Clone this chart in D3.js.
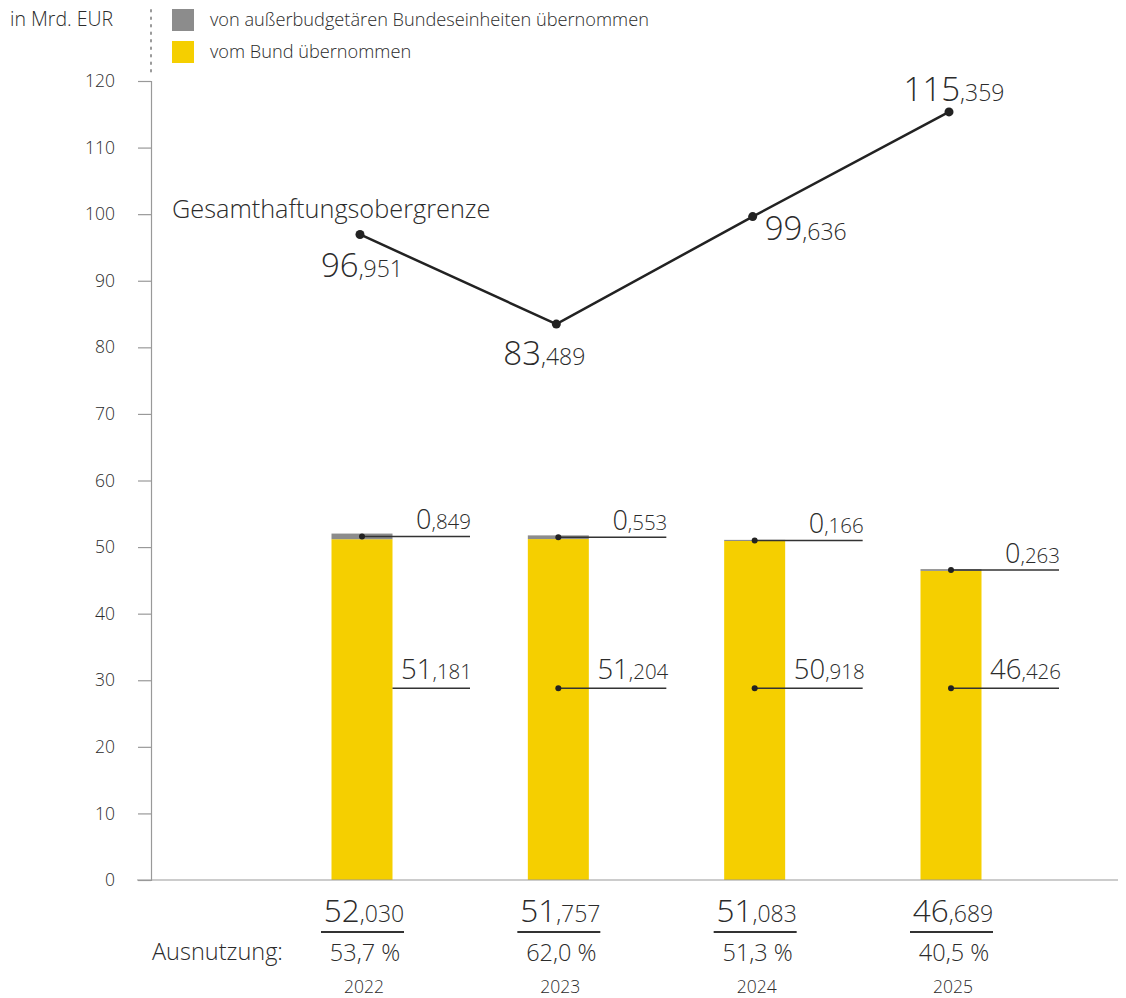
<!DOCTYPE html>
<html>
<head>
<meta charset="utf-8">
<script src="https://cdn.jsdelivr.net/npm/d3@7"></script>
<style>
  body { margin: 0; background: #fff; }
  svg text { font-family: 'Open Sans', sans-serif; fill: #2b2b2b; }
  .light { font-weight: 300; }
</style>
</head>
<body>
<div id="chart"></div>
<script>
// Daten (in Mrd. EUR)
var jahre = ['2022', '2023', '2024', '2025']
var vomBund = [51.181, 51.204, 50.918, 46.426]
var ausserbudgetaer = [0.849, 0.553, 0.166, 0.263]
var gesamt = [52.030, 51.757, 51.083, 46.689]
var obergrenze = [96.951, 83.489, 99.636, 115.359]
var ausnutzung = ['53,7 %', '62,0 %', '51,3 %', '40,5 %']
var yTicks = [0, 10, 20, 30, 40, 50, 60, 70, 80, 90, 100, 110, 120]

var width = 1126
var height = 998
var gelb = '#f5cf00'
var grau = '#8c8c8c'

var svg = d3.select('#chart').append('svg').attr('width', width).attr('height', height)

var y = d3.scaleLinear().domain([0, 120]).range([880, 81])
var x = d3.scalePoint().domain(jahre).range([362, 951])
var barW = 61

// y-Achse
var yaxis = d3.axisLeft(y).tickValues(yTicks).tickSize(13).tickPadding(23)
var gy = svg.append('g').attr('transform', 'translate(151,0)').call(yaxis)
gy.select('.domain').attr('stroke', '#999').attr('stroke-width', 1.2)
gy.selectAll('.tick line').attr('stroke', '#999').attr('stroke-width', 1.2)
gy.selectAll('.tick text').attr('class', 'light').style('font-size', '17.5px').attr('fill', '#222')

// gepunktete Linie oberhalb der Achse
svg.append('line')
  .attr('x1', 151).attr('x2', 151).attr('y1', 10).attr('y2', 76)
  .attr('stroke', '#999').attr('stroke-width', 2)
  .attr('stroke-dasharray', '1.5,6').attr('stroke-linecap', 'round')

svg.append('text').attr('class', 'light').attr('x', 10).attr('y', 26).style('font-size', '19.5px').text('in Mrd. EUR')

// Legende
var legende = [
  { label: 'von außerbudgetären Bundeseinheiten übernommen', color: grau },
  { label: 'vom Bund übernommen', color: gelb },
]
var lg = svg.append('g').selectAll('g').data(legende).enter().append('g')
  .attr('transform', (d, i) => 'translate(172,' + (9 + i * 32) + ')')
lg.append('rect').attr('width', 22).attr('height', 22).attr('fill', (d) => d.color)
lg.append('text').attr('class', 'light').attr('x', 38).attr('y', 17).style('font-size', '18.2px').text((d) => d.label)

// Balken
var bars = svg.append('g')
bars.selectAll('rect.bund').data(vomBund).enter().append('rect')
  .attr('class', 'bund')
  .attr('x', (d, i) => x(jahre[i]) - barW / 2)
  .attr('y', (d) => y(d))
  .attr('width', barW)
  .attr('height', (d) => y(0) - y(d))
  .attr('fill', gelb)
bars.selectAll('rect.ausser').data(ausserbudgetaer).enter().append('rect')
  .attr('class', 'ausser')
  .attr('x', (d, i) => x(jahre[i]) - barW / 2)
  .attr('y', (d, i) => y(vomBund[i] + d))
  .attr('width', barW)
  .attr('height', (d, i) => y(vomBund[i]) - y(vomBund[i] + d))
  .attr('fill', grau)

// x-Achse
svg.append('line').attr('x1', 137).attr('x2', 1118).attr('y1', y(0)).attr('y2', y(0))
  .attr('stroke', '#999').attr('stroke-width', 1.2)

// Zahl mit großem Ganzzahlteil und kleinen Nachkommastellen
function zahl(sel, v, big, small) {
  var parts = v.toFixed(3).split('.')
  sel.attr('class', 'light')
  sel.append('tspan').style('font-size', big + 'px').text(parts[0])
  sel.append('tspan').style('font-size', small + 'px').text(',' + parts[1])
}

// Beschriftung der Balken
var lineEnd = 108
var ann = svg.append('g')
jahre.forEach(function (j, i) {
  var cx = x(j)
  // oberes Segment
  var yTop = y(vomBund[i] + ausserbudgetaer[i] / 2)
  ann.append('line').attr('x1', cx).attr('x2', cx + lineEnd).attr('y1', yTop).attr('y2', yTop)
    .attr('stroke', '#333').attr('stroke-width', 1.5)
  ann.append('circle').attr('cx', cx).attr('cy', yTop).attr('r', 3).attr('fill', '#222')
  zahl(ann.append('text').attr('x', cx + lineEnd + 1).attr('y', yTop - 7).attr('text-anchor', 'end'),
    ausserbudgetaer[i], 27, 20.5)

  // unteres Segment
  var yLow = y(28.8)
  ann.append('line').attr('x1', i === 0 ? cx + barW / 2 : cx).attr('x2', cx + lineEnd)
    .attr('y1', yLow).attr('y2', yLow)
    .attr('stroke', '#333').attr('stroke-width', 1.5)
  if (i > 0) ann.append('circle').attr('cx', cx).attr('cy', yLow).attr('r', 3).attr('fill', '#222')
  zahl(ann.append('text').attr('x', cx + lineEnd + 2).attr('y', yLow - 9).attr('text-anchor', 'end'),
    vomBund[i], 27.5, 20.5)

  // Summe, Ausnutzung, Jahr
  var t = ann.append('text').attr('x', cx + 2).attr('y', 922).attr('text-anchor', 'middle')
  zahl(t, gesamt[i], 31.5, 23)
  ann.append('line').attr('x1', cx - 41).attr('x2', cx + 42).attr('y1', 932).attr('y2', 932)
    .attr('stroke', '#333').attr('stroke-width', 1.8)
  ann.append('text').attr('class', 'light').attr('x', cx + 3).attr('y', 961).attr('text-anchor', 'middle')
    .style('font-size', '23.5px').text(ausnutzung[i])
  ann.append('text').attr('class', 'light').attr('x', cx + 2).attr('y', 993).attr('text-anchor', 'middle')
    .style('font-size', '17.5px').text(j)
})

svg.append('text').attr('class', 'light').attr('x', 152).attr('y', 960).style('font-size', '23.5px').text('Ausnutzung:')

// Linie Gesamthaftungsobergrenze
var line = d3.line().x((d, i) => x(jahre[i]) - 2).y((d) => y(d))
svg.append('path').datum(obergrenze).attr('d', line)
  .attr('fill', 'none').attr('stroke', '#222').attr('stroke-width', 2.5)
svg.append('g').selectAll('circle').data(obergrenze).enter().append('circle')
  .attr('cx', (d, i) => x(jahre[i]) - 2).attr('cy', (d) => y(d)).attr('r', 4.5).attr('fill', '#222')

var offsets = [[0, 43], [-14, 41], [51, 23], [3, -11]]
obergrenze.forEach(function (v, i) {
  var t = svg.append('text')
    .attr('x', x(jahre[i]) + offsets[i][0])
    .attr('y', y(v) + offsets[i][1])
    .attr('text-anchor', 'middle')
  zahl(t, v, 33, 23)
})

svg.append('text').attr('class', 'light').attr('x', 172).attr('y', 218).style('font-size', '25.3px').text('Gesamthaftungsobergrenze')
</script>
</body>
</html>
